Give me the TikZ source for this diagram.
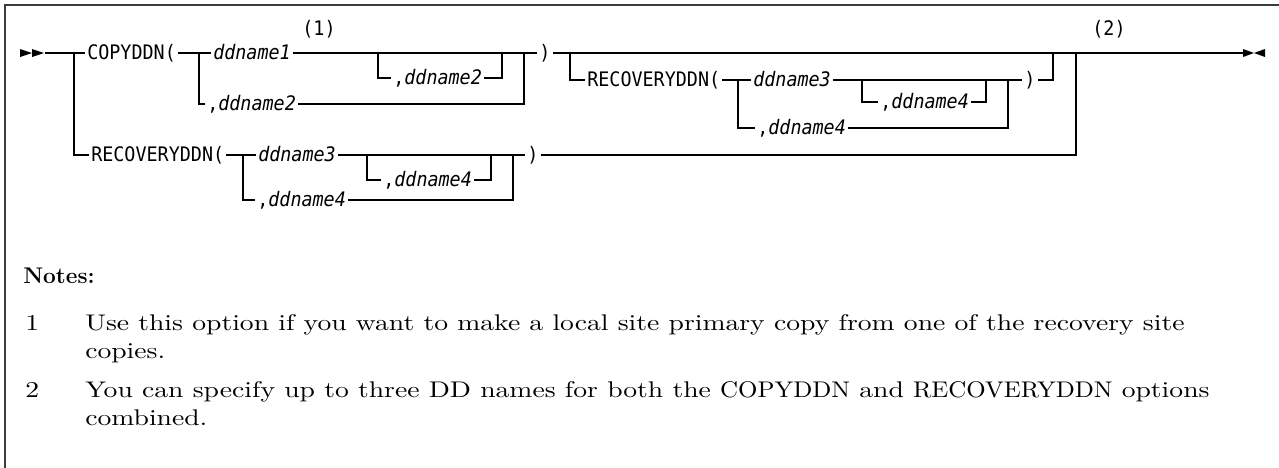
\documentclass[tikz,border=0pt]{standalone}
\usepackage{fontspec}
\usetikzlibrary{positioning,calc}
\newfontfamily\railfont{DejaVu Sans Mono}[FakeStretch=0.92]
\newfontfamily\notefont{lmroman10-regular}[Extension=.otf,FakeStretch=1.22]
\newfontfamily\notecaps{lmroman10-regular}[Extension=.otf,FakeStretch=1.1]
\definecolor{FrameGray}{RGB}{60,60,60}

\begin{document}
\begin{tikzpicture}[
    x=0.75pt, y=-0.75pt,
    kw/.style={anchor=west, inner xsep=1.5pt, inner ysep=0pt, text height=10pt, text depth=0pt, font=\railfont\fontsize{15}{17}\selectfont},
    paren/.style={kw, anchor=center, inner xsep=2pt},
    ref/.style={inner sep=0pt, font=\railfont\fontsize{15}{17}\selectfont},
    rail/.style={line width=0.9pt, line join=miter},
    railtip/.style={fill=black},
    note/.style={anchor=base west, inner sep=0pt, font=\notefont\fontsize{17}{20}\selectfont}
  ]
    \useasboundingbox (0,0) rectangle (1279,468);
    \draw[FrameGray, line width=1.2pt] (5,468) -- (5,5) -- (1279,5);

    % first row
    \node[kw] (cpy) at (85,53) {COPYDDN(};
    \node[kw] (dn1) at (211,53) {\itshape ddname1};
    \node[kw] (dn2opt) at (391,78) {,{\itshape ddname2}};
    \node[kw] (dn2) at (205,104) {,{\itshape ddname2}};
    \node[paren] (rp1) at (545,53) {)};
    \node[ref] (n1) at (319,29) {(1)};
    \node[ref] (n2) at (1109,29) {(2)};

    \node[kw] (rcv1) at (585,80) {RECOVERYDDN(};
    \node[kw] (dn3a) at (751,80) {\itshape ddname3};
    \node[kw] (dn4opta) at (878,102) {,{\itshape ddname4}};
    \node[kw] (dn4a) at (755,128) {,{\itshape ddname4}};
    \node[paren] (rp2) at (1030,80) {)};

    % second row
    \node[kw] (rcv2) at (89,155) {RECOVERYDDN(};
    \node[kw] (dn3b) at (256,155) {\itshape ddname3};
    \node[kw] (dn4optb) at (381,180) {,{\itshape ddname4}};
    \node[kw] (dn4b) at (255,200) {,{\itshape ddname4}};
    \node[paren] (rp3) at (533,155) {)};

    \coordinate (start) at (45,53);
    \coordinate (b0) at (74,53);
    \coordinate (b1) at (199,53);
    \coordinate (j1) at (378,53);
    \coordinate (j2) at (502,53);
    \coordinate (j3) at (524,53);
    \coordinate (b2) at (570,53);
    \coordinate (j6) at (1053,53);
    \coordinate (j7) at (1076,53);
    \coordinate (end) at (1243,53);
    \coordinate (b3) at (738,80);
    \coordinate (j4) at (862,80);
    \coordinate (j5) at (986,80);
    \coordinate (j8) at (1008,80);
    \coordinate (b4) at (243,155);
    \coordinate (j9) at (367,155);
    \coordinate (j10) at (491,155);
    \coordinate (j11) at (513,155);

    \fill[railtip] (20,49) -- (32,53) -- (20,57) -- cycle;
    \fill[railtip] (32,49) -- (44,53) -- (32,57) -- cycle;
    \fill[railtip] (1243,49) -- (1254,53) -- (1243,57) -- cycle;
    \fill[railtip] (1265,49) -- (1254,53) -- (1265,57) -- cycle;

    \draw[rail] (start) -- (cpy.west);
    \draw[rail] (b0) |- (rcv2.west);
    \draw[rail] (cpy.east) -- (dn1.west);
    \draw[rail] (b1) |- (dn2.west);
    \draw[rail] (dn1.east) -- (rp1.west);
    \draw[rail] (j1) |- (dn2opt.west);
    \draw[rail] (dn2opt.east) -| (j2);
    \draw[rail] (dn2.east) -| (j3);
    \draw[rail] (rp1.east) -- (end);
    \draw[line width=1.4pt] (1127,53.4) -- (1148,53.4);

    \draw[rail] (b2) |- (rcv1.west);
    \draw[rail] (rcv1.east) -- (dn3a.west);
    \draw[rail] (b3) |- (dn4a.west);
    \draw[rail] (dn3a.east) -- (rp2.west);
    \draw[rail] (j4) |- (dn4opta.west);
    \draw[rail] (dn4opta.east) -| (j5);
    \draw[rail] (dn4a.east) -| (j8);
    \draw[rail] (rp2.east) -| (j6);

    \draw[rail] (rcv2.east) -- (dn3b.west);
    \draw[rail] (b4) |- (dn4b.west);
    \draw[rail] (dn3b.east) -- (rp3.west);
    \draw[rail] (j9) |- (dn4optb.west);
    \draw[rail] (dn4optb.east) -| (j10);
    \draw[rail] (dn4b.east) -| (j11);
    \draw[rail] (rp3.east) -| (j7);

    % notes
    \node[note, font=\fontsize{17}{20}\selectfont\bfseries] (notes) at (23,283) {Notes:};
    \node[note] (num1) at (25,330) {1};
    \node[note] (txt1) at (85,330) {Use this option if you want to make a local site primary copy from one of the recovery site};
    \node[note] (txt1b) at (85,358) {copies.};
    \node[note] (num2) at (25,397) {2};
    \node[note] (txt2) at (85,397) {You can specify up to three DD names for both the {\notecaps COPYDDN} and {\notecaps RECOVERYDDN} options};
    \node[note] (txt2b) at (85,425) {combined.};
\end{tikzpicture}
\end{document}
